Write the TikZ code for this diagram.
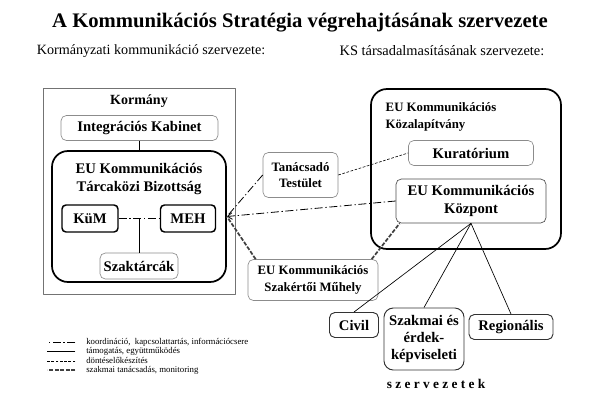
\documentclass[tikz,border=0pt]{standalone}
\usepackage{fontspec}
\setmainfont{Liberation Serif}
\usetikzlibrary{arrows.meta}

\begin{document}
\begin{tikzpicture}[x=0.75pt,y=-0.75pt,line join=round,
  boxsize/.style 2 args={minimum width=#1*0.75pt,minimum height=#2*0.75pt},
  txt/.style={font=\bfseries\fontsize{11}{13}\selectfont,align=center},
  smalltxt/.style={font=\bfseries\fontsize{9.6}{12.5}\selectfont},
  ghostbox/.style={txt,draw=black!45,rounded corners=4pt,line width=0.5pt,inner sep=0pt},
  thickbox/.style={draw=black,rounded corners=12pt,line width=1.3pt,inner sep=0pt},
  heavybox/.style={txt,draw=black,rounded corners=3pt,line width=1.1pt,inner sep=0pt},
  orgbox/.style={txt,draw=black!80,rounded corners=4pt,line width=0.7pt,inner sep=0pt},
  coordln/.style={line width=0.6pt,dash pattern=on 6pt off 2pt on 1pt off 2pt},
  supportln/.style={line width=0.5pt},
  prepln/.style={line width=0.45pt,dash pattern=on 2pt off 1.2pt},
  adviceln/.style={line width=1.3pt,dash pattern=on 3pt off 1.2pt,black!75},
  legendtxt/.style={font=\fontsize{6.6}{8}\selectfont,anchor=west,inner sep=0pt}]
\useasboundingbox (0,0) rectangle (590,411);
% titles
\node[font=\bfseries\fontsize{15.5}{18}\selectfont] (title) at (300,23) {A Kommunikációs Stratégia végrehajtásának szervezete};
\node[font=\fontsize{10.6}{13}\selectfont] (subleft) at (151,51) {Kormányzati kommunikáció szervezete:};
\node[font=\fontsize{10.8}{13}\selectfont] (subright) at (442,51) {KS társadalmasításának szervezete:};
% government side
\node[draw=black!55,line width=0.5pt,boxsize={192}{206}] (kormany) at (139,191) {};
\node[font=\bfseries\fontsize{10.5}{12}\selectfont] (kormanylabel) at (139,101) {Kormány};
\node[ghostbox,boxsize={157}{25}] (kabinet) at (139.5,128) {Integrációs Kabinet};
\node[thickbox,boxsize={174}{131}] (bizottsag) at (139,216.5) {};
\node[txt] (bizlabel) at (139,179) {EU Kommunikációs\\Tárcaközi Bizottság};
\node[heavybox,boxsize={56}{27}] (kum) at (90,218.5) {KüM};
\node[heavybox,boxsize={55}{27}] (meh) at (188,218.5) {MEH};
\node[ghostbox,boxsize={78}{26}] (szaktarca) at (139,266) {Szaktárcák};
% society side
\node[thickbox,boxsize={190}{160}] (alapitvany) at (466,169) {};
\node[txt,smalltxt,align=left,anchor=north west] (alaplabel) at (381,98) {EU Kommunikációs\\Közalapítvány};
\node[ghostbox,boxsize={125}{25}] (kurat) at (471,153) {Kuratórium};
\node[ghostbox,draw=black!70,boxsize={150}{44}] (kozpont) at (471,201) {EU Kommunikációs\\Központ};
\node[ghostbox,smalltxt,boxsize={75}{45}] (tanacs) at (300.5,175) {Tanácsadó\\Testület};
\node[ghostbox,smalltxt,boxsize={130}{41}] (muhely) at (313,280) {EU Kommunikációs\\Szakértői Műhely};
\node[orgbox,boxsize={49}{25}] (civil) at (354,325) {Civil};
\node[orgbox,rounded corners=7pt,boxsize={80}{62}] (szakmai) at (424,339) {Szakmai és\\érdek-\\képviseleti};
\node[orgbox,boxsize={84}{25}] (region) at (511,327) {Regionális};
\node[font=\bfseries\fontsize{10}{12}\selectfont] (szervezetek) at (436,384) {s\ z\ e\ r\ v\ e\ z\ e\ t\ e\ k};
% connectors
\draw[supportln] (kabinet.south) -- (kabinet.south |- bizottsag.north);
\draw[coordln] (kum) -- (meh);
\draw[supportln] (szaktarca.north) -- (szaktarca.north |- kum.east);
\draw[coordln,-{Straight Barb[length=3.5pt,width=5pt]}] (kozpont.west) -- (bizottsag.east);
\draw[coordln] (tanacs.west) -- (bizottsag.east);
\draw[adviceln] ([xshift=6pt]muhely.north west) -- (bizottsag.east);
\draw[adviceln] ([xshift=-5pt]muhely.north east) -- ([xshift=3pt]kozpont.south west);
\draw[prepln] (tanacs.east) -- (kurat.west);
\draw[supportln] (kozpont.south) -- (civil.north);
\draw[supportln] (kozpont.south) -- (szakmai.north);
\draw[supportln] (kozpont.south) -- (region.north);
% legend
\foreach \ln/\lbl [count=\i] in {coordln/{koordináció,\ \ kapcsolattartás, információcsere},
    supportln/{támogatás, együttműködés}, prepln/{döntéselőkészítés},
    adviceln/{szakmai tanácsadás, monitoring}}{
  \node[legendtxt] (leg\i) at (86,{333+9.3*\i}) {\lbl};
  \draw[\ln] ([xshift=-8pt]leg\i.west) -- ++(-21pt,0);
}
\end{tikzpicture}
\end{document}
